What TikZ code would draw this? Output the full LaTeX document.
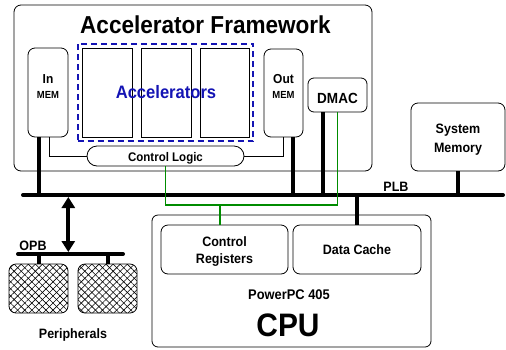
\documentclass[tikz,border=0pt]{standalone}
\usepackage{fontspec}
\setmainfont[FakeStretch=0.92]{Liberation Sans}
\usetikzlibrary{arrows.meta,fit,patterns.meta}
\definecolor{accblue}{RGB}{20,20,180}
\definecolor{ctlgreen}{RGB}{0,140,0}
\newcommand{\fsz}[1]{\fontsize{#1}{#1}\selectfont\bfseries}

\begin{document}
\begin{tikzpicture}[x=1pt,y=-1pt,line width=0.8pt]
    \tikzset{
        box/.style={draw, rounded corners=7pt, inner sep=0pt},
        accbox/.style={draw, inner sep=0pt, minimum width=50pt, minimum height=89pt},
        lbl/.style={inner sep=0pt, anchor=base},
        bus/.style={line width=4pt},
        busbar/.style={bus, line cap=round},
        ctlwire/.style={draw=ctlgreen, line width=1.2pt},
        periph/.style={box, minimum width=59pt, minimum height=49pt,
            pattern={Lines[angle=45,distance=5pt,line width=0.6pt]},
            preaction={pattern={Lines[angle=-45,distance=5pt,line width=0.6pt]}}},
        bigtip/.tip={Triangle[width=13pt,length=11pt]}
    }
    \useasboundingbox (0,0) rectangle (506,349);
    % accelerator framework
    \node[box, minimum width=358pt, minimum height=166pt] (frame) at (193,88) {};
    \node[lbl, font=\fsz{24.5}] (title) at (205.5,33) {Accelerator Framework};
    \node[box, minimum width=40pt, minimum height=89pt] (inmem) at (48,92.5) {};
    \node[lbl, font=\fsz{13}] (inlbl) at (48,83) {In};
    \node[lbl, font=\fsz{10.3}] (inmemlbl) at (48,98) {MEM};
    \node[accbox] (acc1) at (107,92.5) {};
    \node[accbox] (acc2) at (166,92.5) {};
    \node[accbox, minimum width=49pt] (acc3) at (224.5,92.5) {};
    \node[draw=accblue, line width=2pt, dash pattern=on 6pt off 4pt, inner sep=4pt, fit=(acc1)(acc3)] (accgrp) {};
    \node[lbl, font=\fsz{18}, text=accblue] (acclbl) at (166,98) {Accelerators};
    \node[box, minimum width=39pt, minimum height=88pt] (outmem) at (283.5,93) {};
    \node[lbl, font=\fsz{13}] (outlbl) at (283.5,83) {Out};
    \node[lbl, font=\fsz{10.3}] (outmemlbl) at (283.5,98) {MEM};
    \node[box, rounded corners=6pt, minimum width=59pt, minimum height=34pt] (dmac) at (337.5,95) {};
    \node[lbl, font=\fsz{14.7}] (dmaclbl) at (337.5,103) {DMAC};
    \node[box, rounded corners=10pt, minimum width=157pt, minimum height=20pt] (ctrl) at (165.5,156) {};
    \node[lbl, font=\fsz{12.5}] (ctrllbl) at (165.5,161) {Control Logic};
    % memory and cpu
    \node[box, minimum width=94pt, minimum height=68pt] (sysmem) at (458,137) {};
    \node[lbl, font=\fsz{13.6}] (syslbl) at (458,133) {System};
    \node[lbl, font=\fsz{13.6}] (memlbl) at (458,152) {Memory};
    \node[box, rounded corners=6pt, minimum width=279pt, minimum height=132pt] (cpu) at (291.5,281) {};
    \node[box, minimum width=127pt, minimum height=49pt] (creg) at (224.5,249.5) {};
    \node[lbl, font=\fsz{13.6}] (creglbl) at (224.5,246) {Control};
    \node[lbl, font=\fsz{13.6}] (creglbl2) at (224.5,263) {Registers};
    \node[box, minimum width=128pt, minimum height=49pt] (dcache) at (357,249.5) {};
    \node[lbl, font=\fsz{13.6}] (dcachelbl) at (357,254) {Data Cache};
    \node[lbl, font=\fsz{14}] (ppclbl) at (289,299) {PowerPC 405};
    \node[lbl, font=\fsz{32.5}] (cpulbl) at (288,336) {CPU};
    % peripherals
    \node[periph] (per1) at (38.5,288.5) {};
    \node[periph] (per2) at (107.5,288.5) {};
    \node[lbl, font=\fsz{13.6}] (perlbl) at (73,338) {Peripherals};
    % buses
    \coordinate (plbL) at (23,195);
    \coordinate (plbR) at (503,195);
    \coordinate (opbL) at (18,254);
    \coordinate (opbR) at (123,254);
    \coordinate (gj) at (220,205);
    \draw[busbar] (plbL) -- (plbR);
    \draw[busbar] (opbL) -- (opbR);
    \node[lbl, font=\fsz{13.6}] (plblbl) at (396,191) {PLB};
    \node[lbl, font=\fsz{13.6}] (opblbl) at (33,250) {OPB};
    % connectors
    \draw[bus] ([xshift=-9pt]inmem.south) -- ([xshift=-9pt]inmem.south |- plbL);
    \draw ([xshift=1pt]inmem.south) |- (ctrl.west);
    \draw (ctrl.east) -| (outmem.south);
    \draw[bus] ([xshift=9.5pt]outmem.south) -- ([xshift=9.5pt]outmem.south |- plbL);
    \draw[bus] ([xshift=-14.5pt]dmac.south) -- ([xshift=-14.5pt]dmac.south |- plbL);
    \draw[bus] (sysmem.south) -- (sysmem.south |- plbL);
    \draw[bus] (dcache.north |- plbL) -- (dcache.north);
    \draw[ctlwire] (ctrl.south) |- (gj) -| (dmac.south);
    \draw[ctlwire] (gj) -- (gj |- creg.north);
    \draw[bus, {bigtip}-{bigtip}, shorten <=2pt, shorten >=2pt] (per1.east |- plbL) -- (per1.east |- opbL);
    \draw[bus] (per1.north |- opbL) -- (per1.north);
    \draw[bus] (per2.north |- opbL) -- (per2.north);
\end{tikzpicture}
\end{document}
